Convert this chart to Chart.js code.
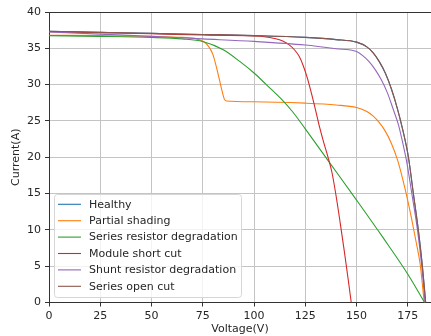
<!DOCTYPE html>
<html><head><meta charset="utf-8">
<script src="https://cdn.jsdelivr.net/npm/chart.js@4"></script>
<style>html,body{margin:0;padding:0;background:#fff}#wrap{width:431px;height:336px;position:relative}</style>
</head><body><div id="wrap"><canvas id="c" width="431" height="336"></canvas></div>
<script>
const seriesNames = ['Healthy','Partial shading','Series resistor degradation','Module short cut','Shunt resistor degradation','Series open cut'];
const seriesColors = ['#1f77b4','#ff7f0e','#2ca02c','#d62728','#9467bd','#8c564b'];
const xTickValues = [0,25,50,75,100,125,150,175];
const yTickValues = [0,5,10,15,20,25,30,35,40];

const healthyV = [0,25,50,75,100,125,140,150,155,158,161,164,167,170,172.5,175.3,177.7,180.1,182.1,183.7];
const healthyI = [37.35,37.2,37.05,36.9,36.75,36.5,36.2,35.85,35.2,34.4,33.2,31.6,29.4,26.6,23.8,20.0,15.0,10.0,5.0,0];

const shadingV = [0,25,50,65,72,76,78,80,82,84,85.5,86.5,100,125,140,150,155,158,161,164,167,170,172.5,175,177,179,181,183];
const shadingI = [36.8,36.75,36.65,36.5,36.3,35.8,35.2,34.1,32.0,29.6,28.0,27.75,27.65,27.45,27.2,26.85,26.3,25.7,24.8,23.6,21.9,19.6,17.0,14.0,11.3,8.4,5.3,0];

const seriesResV = [0,25,50,65,75,85,93,100,106,113,119,125,137,150,162.5,175,183.2];
const seriesResI = [36.75,36.65,36.5,36.3,35.95,34.8,33.2,31.6,30.0,28.1,26.2,23.9,19.2,14.1,9.1,3.9,0];

const shortCutV = [0,25,50,75,100,105,110,114,117,120,122,124,126,128,130,132,134,136,138,140,142,144,146,147.4];
const shortCutI = [37.3,37.15,37.0,36.85,36.7,36.6,36.35,36.0,35.5,34.7,33.9,32.6,30.9,28.8,26.5,24.1,22.0,20.1,17.9,14.7,11.0,7.1,3.0,0];

const shuntV = [0,25,50,75,100,125,140,150,153,156,159,162,165,168,170.5,172.5,174.5,177,179.7,181.8,183.4];
const shuntI = [37.25,36.95,36.65,36.3,35.95,35.45,34.95,34.55,34.0,33.2,32.1,30.7,28.9,26.5,24.4,22.0,19.3,14.9,10.0,5.0,0];

const openCutV = [0,25,50,75,100,125,140,150,155,158,161,164,167,170,172.5,175.3,177.7,180.1,182.1,183.7];
const openCutI = [37.35,37.2,37.05,36.9,36.75,36.5,36.2,35.85,35.2,34.4,33.2,31.6,29.4,26.6,23.8,20.0,15.0,10.0,5.0,0];

const seriesV = [healthyV, shadingV, seriesResV, shortCutV, shuntV, openCutV];
const seriesI = [healthyI, shadingI, seriesResI, shortCutI, shuntI, openCutI];

const FONT = 'DejaVu Sans';
const FS = 11;
const TXT = '#262626';

const datasets = seriesNames.map((name, i) => ({
  label: name,
  data: seriesV[i].map((v, k) => ({x: v, y: seriesI[i][k]})),
  borderColor: seriesColors[i],
  backgroundColor: seriesColors[i],
  borderWidth: 1.1,
  pointRadius: 0,
  fill: false,
  cubicInterpolationMode: 'monotone',
  order: seriesNames.length - 1 - i
}));

const legendPlugin = {
  id: 'insideLegend',
  afterDraw(chart) {
    const ctx = chart.ctx;
    const ca = chart.chartArea;
    ctx.save();
    ctx.strokeStyle = '#333';
    ctx.lineWidth = 1;
    ctx.beginPath();
    ctx.moveTo(ca.left, Math.round(ca.top) + 0.5);
    ctx.lineTo(ca.right, Math.round(ca.top) + 0.5);
    ctx.stroke();
    const bx = 54.5, by = 194.5, bw = 187, bh = 103, r = 3;
    ctx.beginPath();
    ctx.moveTo(bx + r, by);
    ctx.lineTo(bx + bw - r, by); ctx.quadraticCurveTo(bx + bw, by, bx + bw, by + r);
    ctx.lineTo(bx + bw, by + bh - r); ctx.quadraticCurveTo(bx + bw, by + bh, bx + bw - r, by + bh);
    ctx.lineTo(bx + r, by + bh); ctx.quadraticCurveTo(bx, by + bh, bx, by + bh - r);
    ctx.lineTo(bx, by + r); ctx.quadraticCurveTo(bx, by, bx + r, by);
    ctx.closePath();
    ctx.fillStyle = 'rgba(255,255,255,0.8)';
    ctx.fill();
    ctx.strokeStyle = '#d6d6d6';
    ctx.lineWidth = 1;
    ctx.stroke();
    ctx.font = FS + 'px "' + FONT + '"';
    ctx.textBaseline = 'middle';
    ctx.textAlign = 'left';
    chart.data.datasets.forEach((ds, i) => {
      const y = 204.3 + i * 16.4;
      ctx.strokeStyle = ds.borderColor;
      ctx.lineWidth = 1.1;
      ctx.beginPath();
      ctx.moveTo(58, y); ctx.lineTo(81, y);
      ctx.stroke();
      ctx.fillStyle = TXT;
      ctx.fillText(ds.label, 89, y + 0.5);
    });
    ctx.restore();
  }
};

new Chart(document.getElementById('c'), {
  type: 'line',
  data: { datasets },
  options: {
    responsive: false,
    animation: false,
    layout: { padding: { top: 12, right: 0, left: 0, bottom: 0 } },
    plugins: { legend: { display: false }, tooltip: { enabled: false } },
    scales: {
      x: {
        type: 'linear', min: 0, max: 186.3, offset: false,
        afterBuildTicks: s => { s.ticks = xTickValues.map(v => ({ value: v })); },
        afterFit: s => { s.height = 33.5; },
        ticks: { autoSkip: false, maxRotation: 0, padding: 3, color: TXT, font: { family: FONT, size: FS } },
        grid: { color: '#c4c4c4', lineWidth: 1, drawTicks: true, tickLength: 4, tickColor: '#333' },
        border: { display: true, color: '#333', width: 1 },
        title: { display: true, text: 'Voltage(V)', color: TXT, font: { family: FONT, size: FS }, padding: { top: 0, bottom: 0 } }
      },
      y: {
        type: 'linear', min: 0, max: 40,
        afterBuildTicks: s => { s.ticks = yTickValues.map(v => ({ value: v })); },
        afterFit: s => { s.width = 49; },
        ticks: { autoSkip: false, padding: 4, color: TXT, font: { family: FONT, size: FS } },
        grid: { color: '#c4c4c4', lineWidth: 1, drawTicks: true, tickLength: 4, tickColor: '#333' },
        border: { display: true, color: '#333', width: 1 },
        title: { display: true, text: 'Current(A)', color: TXT, font: { family: FONT, size: FS }, padding: { top: 10, bottom: 0 } }
      }
    }
  },
  plugins: [legendPlugin]
});
</script>
</body></html>
